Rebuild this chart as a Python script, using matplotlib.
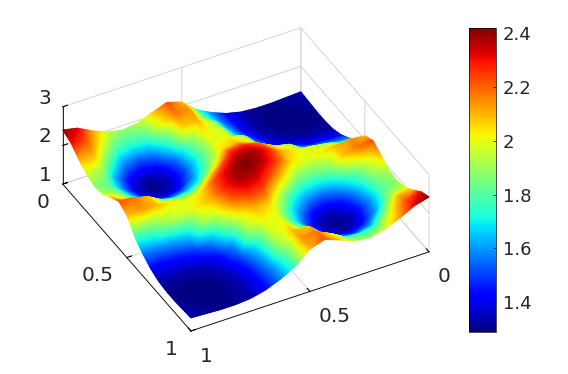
import numpy as np
import matplotlib
matplotlib.use("Agg")
import matplotlib.pyplot as plt
from matplotlib.cm import ScalarMappable
from matplotlib.colors import Normalize
from matplotlib.tri import Triangulation, UniformTriRefiner, LinearTriInterpolator
from mpl_toolkits.mplot3d import proj3d

W, H = 568, 374
plt.rcParams['font.family'] = 'DejaVu Sans'

# Height: rows follow a (front-left axis), columns follow b (front-right axis)
a_values = [i / 16 for i in range(17)]
b_values = [j / 16 for j in range(17)]
z_values = [
 [1.34,1.32,1.30,1.30,1.33,1.42,1.57,1.77,2.10,2.22,2.08,1.93,1.88,1.97,2.12,2.32,2.40],
 [1.32,1.30,1.29,1.30,1.33,1.42,1.58,1.80,2.14,2.18,2.00,1.78,1.75,1.80,2.02,2.22,2.32],
 [1.30,1.29,1.28,1.29,1.33,1.43,1.62,1.92,2.10,2.08,1.75,1.55,1.50,1.58,1.82,2.10,2.12],
 [1.30,1.30,1.29,1.31,1.36,1.49,1.68,1.98,2.03,1.82,1.55,1.38,1.33,1.40,1.60,1.90,1.97],
 [1.33,1.33,1.33,1.36,1.42,1.58,1.92,2.02,1.99,1.75,1.50,1.33,1.29,1.35,1.55,1.80,1.88],
 [1.42,1.42,1.43,1.49,1.58,1.80,2.00,2.10,2.05,1.82,1.58,1.40,1.35,1.43,1.62,1.85,1.93],
 [1.57,1.58,1.62,1.68,1.92,2.00,2.20,2.28,2.25,2.00,1.74,1.60,1.55,1.62,1.78,1.94,2.08],
 [1.77,1.80,1.92,1.98,2.02,2.10,2.28,2.38,2.37,2.25,2.05,1.83,1.80,1.86,2.08,2.18,2.22],
 [2.10,2.14,2.10,2.03,1.99,2.05,2.25,2.37,2.42,2.37,2.25,2.05,1.99,2.03,2.10,2.14,2.10],
 [2.22,2.18,2.08,1.86,1.80,1.83,2.05,2.25,2.37,2.38,2.28,2.10,2.02,1.98,1.92,1.80,1.77],
 [2.08,1.94,1.78,1.62,1.55,1.60,1.74,2.00,2.25,2.28,2.20,2.00,1.92,1.68,1.62,1.58,1.57],
 [1.93,1.85,1.62,1.43,1.35,1.40,1.58,1.82,2.05,2.10,2.00,1.80,1.58,1.49,1.43,1.42,1.42],
 [1.88,1.80,1.55,1.35,1.29,1.33,1.50,1.75,1.99,2.02,1.92,1.58,1.42,1.36,1.33,1.33,1.33],
 [1.97,1.90,1.60,1.40,1.33,1.38,1.55,1.82,2.03,1.98,1.68,1.49,1.36,1.31,1.29,1.30,1.30],
 [2.12,2.10,1.82,1.58,1.50,1.55,1.75,2.08,2.10,1.92,1.62,1.43,1.33,1.29,1.28,1.29,1.30],
 [2.32,2.22,2.02,1.80,1.75,1.78,2.00,2.18,2.14,1.80,1.58,1.42,1.33,1.30,1.29,1.30,1.32],
 [2.42,2.32,2.12,1.97,1.88,1.93,2.08,2.22,2.10,1.77,1.57,1.42,1.33,1.30,1.30,1.32,1.34],
]
axis_ticks = [0, 0.5, 1]
axis_tick_labels = ['0', '0.5', '1']
z_ticks = [1, 2, 3]
cbar_ticks = [1.4, 1.6, 1.8, 2.0, 2.2, 2.4]
cbar_tick_labels = ['1.4', '1.6', '1.8', '2', '2.2', '2.4']
color_min, color_max = 1.288, 2.42

FS = 14.5
FS_CB = 13
INK = '#262626'
GRID = '#d4d4d4'

fig = plt.figure(figsize=(W / 100, H / 100), dpi=100)


def place(side, cx, cy):
    return [(cx - side / 2) / W, 1 - (cy + side / 2) / H, side / W, side / H]


ax = fig.add_axes(place(400, 250, 180), projection='3d')
ax.set_proj_type('ortho')
ax.view_init(elev=38.1, azim=61.7)
ax.set_box_aspect((1, 1, 0.363))
ax.set_xlim(0, 1); ax.set_ylim(0, 1); ax.set_zlim(1, 3)
ax.set_xticks(axis_ticks); ax.set_xticklabels(axis_tick_labels)
ax.set_yticks(axis_ticks); ax.set_yticklabels(axis_tick_labels)
ax.set_zticks(z_ticks)
ax.tick_params(labelsize=FS, colors=INK, pad=2)
ax.tick_params(axis='z', pad=-1)
ax.tick_params(axis='y', pad=0)
for axis in (ax.xaxis, ax.yaxis, ax.zaxis):
    axis.set_pane_color((1, 1, 1, 0))
    axis.pane.set_edgecolor((1, 1, 1, 0))
    axis._axinfo['grid'].update(color=GRID, linewidth=0.7)
    axis.line.set_color('black')
    axis.line.set_linewidth(0.6)
    axis._axinfo['tick'].update(inward_factor=0.0, outward_factor=0.25)
    for t in axis.get_ticklines():
        t.set_color('black')
ax.zaxis.set_ticks_position('lower')
ax.zaxis.set_label_position('lower')
for t in ax.xaxis.get_ticklabels():
    t.set_ha('left')
for t in ax.yaxis.get_ticklabels():
    t.set_ha('right')
for t in ax.zaxis.get_ticklabels():
    t.set_va('baseline')


def pixels(x, y, z):
    fig.canvas.draw()
    px, py, pz = proj3d.proj_transform(np.asarray(x, float), np.asarray(y, float), np.asarray(z, float), ax.get_proj())
    xy = ax.transData.transform(np.column_stack([px, py]))
    return xy[:, 0], xy[:, 1], pz


# fit the box to where its corners sit in the reference (left, front, right base corners)
bx, by, _ = pixels([1, 1, 0], [0, 1, 1], [1, 1, 1])
side = 400 * (429 - 62.7) / (bx[2] - bx[0])
ax.set_position(place(side, 250, 180))
bx, by, _ = pixels([1, 1, 0], [0, 1, 1], [1, 1, 1])
cx = 250 + (429 + 62.7) / 2 - (bx[0] + bx[2]) / 2
cy = 180 + (331 - (H - by[1]))
ax.set_position(place(side, cx, cy))
fig.canvas.draw()

# surface: the read grid as a piecewise-linear mesh. The sub-triangles only carry the
# colour look-up across each cell (like shading interp); they add no new heights.
Z = np.array(z_values)
A, B = np.meshgrid(a_values, b_values, indexing='ij')
n = len(a_values)
idx = np.arange(n * n).reshape(n, n)
p, q, r, s = idx[:-1, :-1].ravel(), idx[1:, :-1].ravel(), idx[1:, 1:].ravel(), idx[:-1, 1:].ravel()
mesh = Triangulation(A.ravel(), B.ravel(), np.vstack([np.column_stack([p, q, r]), np.column_stack([p, r, s])]))
fine = UniformTriRefiner(mesh).refine_triangulation(subdiv=3)
Zf = np.asarray(LinearTriInterpolator(mesh, Z.ravel())(fine.x, fine.y))
sx, sy, sd = pixels(fine.y, fine.x, Zf)
tris = fine.triangles[np.argsort(-sd[fine.triangles].mean(axis=1))]
over = fig.add_axes([0, 0, 1, 1], facecolor='none')
over.set_xlim(0, W); over.set_ylim(0, H); over.axis('off')
over.tripcolor(Triangulation(sx, sy, tris), Zf, shading='gouraud', cmap='jet',
               vmin=color_min, vmax=color_max)

# colour bar
cax = fig.add_axes([469 / W, 1 - 332 / H, 27 / W, 304 / H])
cb = fig.colorbar(ScalarMappable(Normalize(color_min, color_max), 'jet'), cax=cax)
cb.set_ticks(cbar_ticks); cb.set_ticklabels(cbar_tick_labels)
cb.ax.tick_params(labelsize=FS_CB, colors=INK, direction='in', length=2, width=0.5, pad=5, color='black')
cb.outline.set_linewidth(0.5)

fig.savefig('out.png', dpi=100)
